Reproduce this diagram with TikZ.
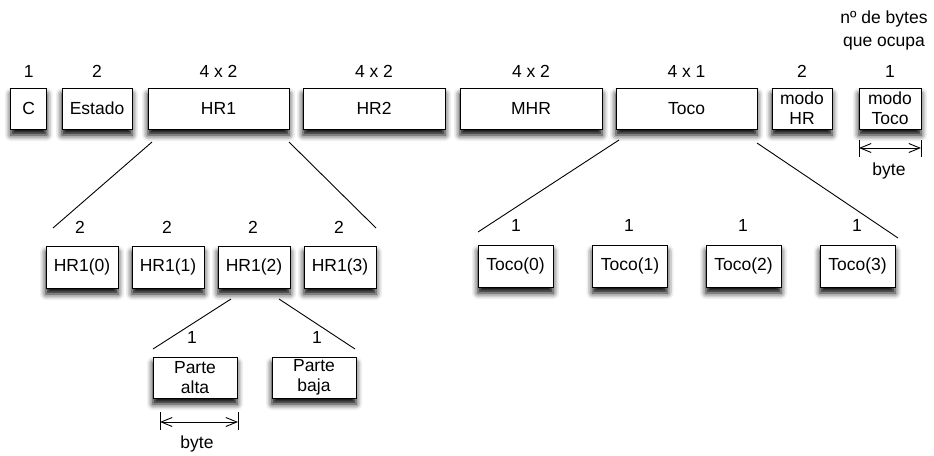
\documentclass[tikz,border=0pt]{standalone}
\usepackage{fontspec}
\setmainfont{Liberation Sans}
\usetikzlibrary{shadows.blur,arrows.meta}
\tikzset{
  box/.style={draw, fill=white, line width=1pt, inner sep=0pt, align=center,
    font=\fontsize{17.5}{20}\selectfont,
    blur shadow={shadow xshift=0pt, shadow yshift=-6pt, shadow blur radius=6pt, shadow opacity=100}},
  lbl/.style={inner sep=0pt, font=\fontsize{17.5}{23}\selectfont, align=center},
  link/.style={line width=0.9pt},
  tick/.style={line width=0.9pt},
  span/.style={line width=0.9pt, {Straight Barb[length=11pt,width=9pt]}-{Straight Barb[length=11pt,width=9pt]}}
}
\begin{document}
\begin{tikzpicture}[x=1pt, y=-1pt]
\useasboundingbox (0,0) rectangle (934,455);

% top row: record fields
\node[box, minimum width=35.7, minimum height=41] (c) at (28.8,108.5) {C};
\node[box, minimum width=70, minimum height=41] (estado) at (97,108.5) {Estado};
\node[box, minimum width=141, minimum height=41] (hr1) at (218.5,108.5) {HR1};
\node[box, minimum width=142, minimum height=41] (hr2) at (374,108.5) {HR2};
\node[box, minimum width=142, minimum height=41] (mhr) at (531,108.5) {MHR};
\node[box, minimum width=141, minimum height=41] (toco) at (686.5,108.5) {Toco};
\node[box, minimum width=60, minimum height=41] (modohr) at (802,108.5) {modo\\HR};
\node[box, minimum width=62, minimum height=41] (modotoco) at (890,108.5) {modo\\Toco};

% byte counts over the fields
\node[lbl] (nc) at (28.8,71) {1};
\node[lbl] (nestado) at (97,71) {2};
\node[lbl] (nhr1) at (218.5,71) {4 x 2};
\node[lbl] (nhr2) at (374,71) {4 x 2};
\node[lbl] (nmhr) at (531,71) {4 x 2};
\node[lbl] (ntoco) at (686.5,71) {4 x 1};
\node[lbl] (nmodohr) at (802,71) {2};
\node[lbl] (nmodotoco) at (890,71) {1};
\node[lbl] (legend) at (884,30) {nº de bytes\\que ocupa};

% one byte, under modo Toco
\coordinate (bta) at (859,140);
\coordinate (btb) at (859,157);
\coordinate (btc) at (921,140);
\coordinate (btd) at (921,157);
\draw[tick] (bta) -- (btb);
\draw[tick] (btc) -- (btd);
\coordinate (bsa) at (859,148);
\coordinate (bsb) at (921,148);
\draw[span] (bsa) -- (bsb);
\node[lbl] (bytetop) at (889,171) {byte};

% HR1 split into four values
\node[box, minimum width=72, minimum height=42] (hra) at (82,267) {HR1(0)};
\node[box, minimum width=72, minimum height=42] (hrb) at (168,267) {HR1(1)};
\node[box, minimum width=72, minimum height=42] (hrc) at (254,267) {HR1(2)};
\node[box, minimum width=72, minimum height=42] (hrd) at (340,267) {HR1(3)};
\node[lbl] (nhra) at (80,227) {2};
\node[lbl] (nhrb) at (167,227) {2};
\node[lbl] (nhrc) at (253,227) {2};
\node[lbl] (nhrd) at (339,227) {2};
\coordinate (hrl0) at (152,142);
\coordinate (hrl1) at (53,228);
\coordinate (hrr0) at (289,142);
\coordinate (hrr1) at (376,228);
\draw[link] (hrl0) -- (hrl1);
\draw[link] (hrr0) -- (hrr1);

% Toco split into four values
\node[box, minimum width=75, minimum height=42] (toa) at (515.5,266) {Toco(0)};
\node[box, minimum width=75, minimum height=42] (tob) at (630,266) {Toco(1)};
\node[box, minimum width=75, minimum height=42] (toc) at (743.5,266) {Toco(2)};
\node[box, minimum width=75, minimum height=42] (tod) at (857.5,266) {Toco(3)};
\node[lbl] (ntoa) at (516,225) {1};
\node[lbl] (ntob) at (629,225) {1};
\node[lbl] (ntoc) at (743,225) {1};
\node[lbl] (ntod) at (857,225) {1};
\coordinate (tol0) at (619,140);
\coordinate (tol1) at (478,232);
\coordinate (tor0) at (757,143);
\coordinate (tor1) at (898,238);
\draw[link] (tol0) -- (tol1);
\draw[link] (tor0) -- (tor1);

% HR1(2) split into its two bytes
\node[box, minimum width=84, minimum height=41] (alta) at (195,377.5) {Parte\\alta};
\node[box, minimum width=84, minimum height=41] (baja) at (314,377.5) {Parte\\baja};
\node[lbl] (nalta) at (192,337) {1};
\node[lbl] (nbaja) at (317,337) {1};
\coordinate (pl0) at (231,299);
\coordinate (pl1) at (153,349);
\coordinate (pr0) at (279,299);
\coordinate (pr1) at (355,349);
\draw[link] (pl0) -- (pl1);
\draw[link] (pr0) -- (pr1);

% one byte, under Parte alta
\coordinate (bba) at (160,412);
\coordinate (bbb) at (160,430);
\coordinate (bbc) at (238,412);
\coordinate (bbd) at (238,430);
\draw[tick] (bba) -- (bbb);
\draw[tick] (bbc) -- (bbd);
\coordinate (bsc) at (160,422);
\coordinate (bsd) at (238,422);
\draw[span] (bsc) -- (bsd);
\node[lbl] (bytebot) at (197,444) {byte};
\end{tikzpicture}
\end{document}
